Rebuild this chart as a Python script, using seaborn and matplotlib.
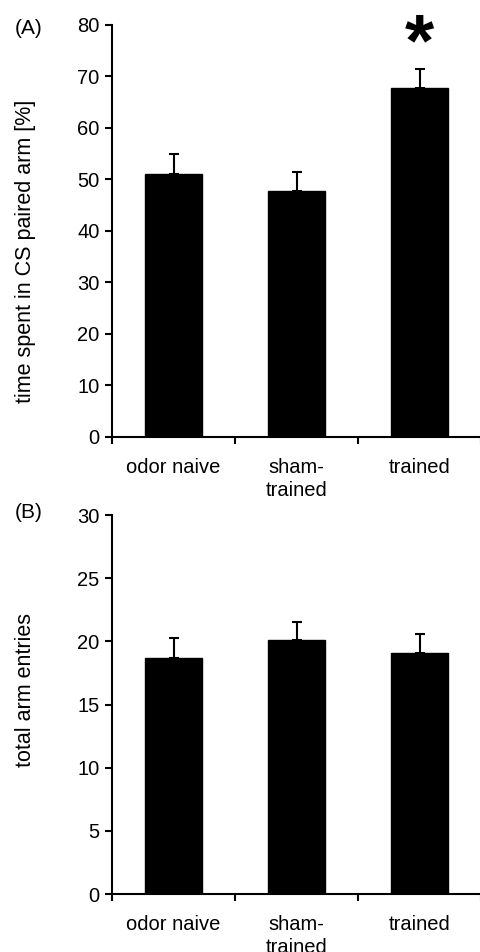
import matplotlib
matplotlib.use("Agg")
import matplotlib.pyplot as plt
import seaborn as sns
import pandas as pd
import numpy as np

categories = ["odor naive", "sham-\ntrained", "trained"]
time_means = [51.1, 47.8, 67.7]
time_sem = [3.9, 3.6, 3.8]
entries_means = [18.7, 20.1, 19.1]
entries_sem = [1.6, 1.4, 1.5]

sns.set_style("ticks")
plt.rcParams['font.family'] = ['Liberation Sans', 'DejaVu Sans']
plt.rcParams['text.color'] = 'black'
plt.rcParams['axes.labelcolor'] = 'black'
plt.rcParams['xtick.color'] = 'black'
plt.rcParams['ytick.color'] = 'black'
plt.rcParams['axes.edgecolor'] = 'black'

FS = 14.5
LFS = 15.5

fig = plt.figure(figsize=(4.81, 9.52), dpi=100)
axA = fig.add_axes([0.233, 0.541, 0.767, 0.433])
axB = fig.add_axes([0.233, 0.0609, 0.767, 0.398])

def panel(ax, means, sem, ymax, step, ylabel, ly):
    df = pd.DataFrame({"cat": categories, "val": means})
    sns.barplot(data=df, x="cat", y="val", color="black", width=0.47,
                saturation=1, ax=ax, edgecolor="black")
    x = np.arange(len(categories))
    ax.errorbar(x, means, yerr=[np.zeros(len(sem)), sem], fmt="none",
                ecolor="black", elinewidth=1.5, capsize=3.5, capthick=1.5)
    ax.set_xlim(-0.5, 2.5)
    ax.set_ylim(0, ymax)
    ax.set_yticks(np.arange(0, ymax + 0.01, step))
    ax.set_xticks(x)
    ax.set_xticklabels(categories)
    ax.set_xticks(np.arange(-0.5, 2.6, 1.0), minor=True)
    ax.tick_params(axis="x", which="major", length=0, pad=15, labelsize=FS)
    ax.tick_params(axis="x", which="minor", length=5, width=1.5, direction="out")
    ax.tick_params(axis="y", length=5, width=1.5, direction="out", labelsize=FS, pad=4)
    ax.set_xlabel("")
    ax.set_ylabel(ylabel, fontsize=LFS)
    ax.yaxis.set_label_coords(-0.206, ly)
    for s in ["top", "right"]:
        ax.spines[s].set_visible(False)
    for s in ["left", "bottom"]:
        ax.spines[s].set_linewidth(1.5)
    for lab in ax.get_xticklabels():
        lab.set_linespacing(1.3)
        lab.set_verticalalignment("top")

panel(axA, time_means, time_sem, 80, 10, "time spent in CS paired arm [%]", 0.451)
panel(axB, entries_means, entries_sem, 30, 5, "total arm entries", 0.538)

axA.text(2, 76.0, "*", ha="center", va="center", fontsize=54, fontweight="bold")

fig.text(15 / 481, 1 - 28 / 952, "(A)", fontsize=15, va="center", ha="left")
fig.text(15 / 481, 1 - 512 / 952, "(B)", fontsize=15, va="center", ha="left")

fig.savefig("out.png", dpi=100)
